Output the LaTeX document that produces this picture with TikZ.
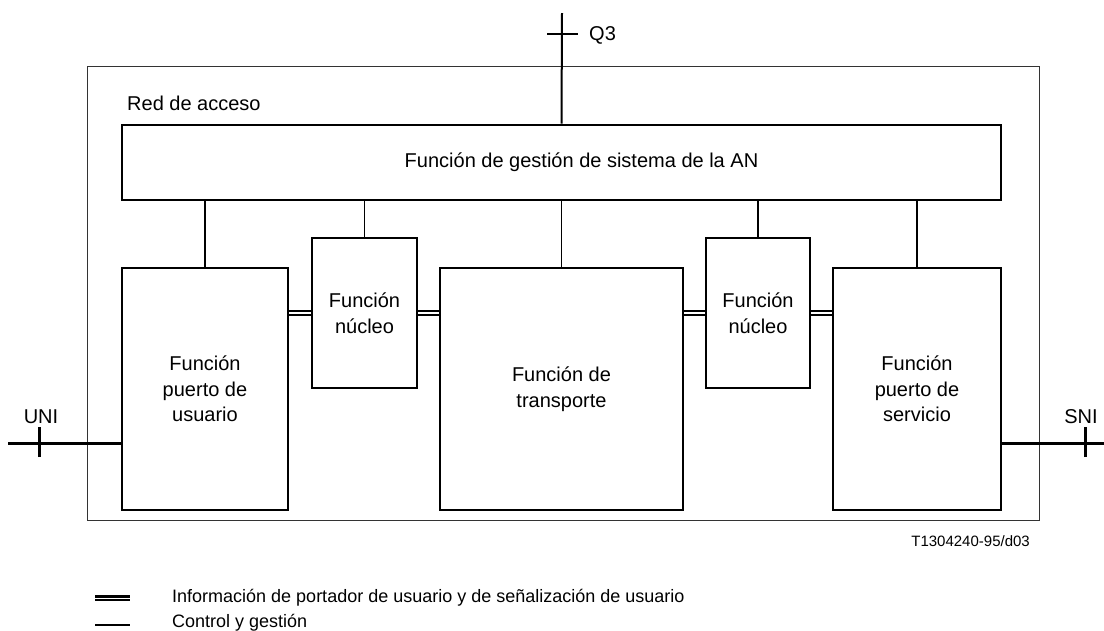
\documentclass[tikz,border=0pt]{standalone}
\usepackage{fontspec}
\setmainfont{Liberation Sans}
\begin{document}
\begin{tikzpicture}[x=1pt,y=-1pt,
  every node/.style={font=\fontsize{20}{25.5}\selectfont, inner sep=0pt},
  fbox/.style={draw, line width=2.8pt, align=center},
  ctrl/.style={line width=1.7pt},
  bearer/.style={double, double distance=1.3pt, line width=2pt},
  legtext/.style={anchor=west, font=\fontsize{18}{22}\selectfont}]
\useasboundingbox (0,0) rectangle (1104,630);
% outer access network box
\node[draw, line width=1pt, black!80, minimum width=952pt, minimum height=454pt] (an) at (563,293) {};
\node[anchor=west] (red) at (127,103) {Red de acceso};
% boxes
\node[fbox, minimum width=879pt, minimum height=75pt] (top) at (561.5,162.5) {\hspace*{40pt}Función de gestión de sistema de la AN};
\node[fbox, minimum width=166pt, minimum height=242pt] (pu) at (205,389) {Función\\puerto de\\usuario};
\node[fbox, minimum width=105pt, minimum height=150pt] (n1) at (364.5,313) {Función\\núcleo};
\node[fbox, minimum width=243pt, minimum height=242pt] (tr) at (561.5,389) {Función de\\transporte};
\node[fbox, minimum width=104pt, minimum height=150pt] (n2) at (758,313) {Función\\núcleo};
\node[fbox, minimum width=168pt, minimum height=242pt] (ps) at (917,389) {Función\\puerto de\\servicio};
% control lines
\foreach \b in {pu,n1,tr,n2,ps}
  \draw[ctrl] (\b.north) -- (\b.north |- top.south);
% bearer lines
\draw[bearer] (n1.west -| pu.east) -- (n1.west);
\draw[bearer] (n1.east) -- (n1.east -| tr.west);
\draw[bearer] (n2.west -| tr.east) -- (n2.west);
\draw[bearer] (n2.east) -- (n2.east -| ps.west);
% Q3
\coordinate (q3end) at (562,13);
\draw[line width=2pt] (top.north) -- (q3end);
\coordinate (q3tick) at (562,34);
\draw[line width=2pt] ([xshift=-15pt]q3tick) -- ([xshift=16pt]q3tick);
\node[anchor=west] (q3) at (589,35) {Q3};
% UNI
\coordinate (uni) at (8,443);
\draw[line width=3pt] (uni) -- (uni -| pu.west);
\coordinate (unitick) at (39,443);
\draw[line width=3pt] ([yshift=-14pt]unitick) -- ([yshift=16pt]unitick);
\node (unil) at (41,417) {UNI};
% SNI
\coordinate (sni) at (1104,443);
\draw[line width=3pt] (sni -| ps.east) -- (sni);
\coordinate (snitick) at (1085,443);
\draw[line width=3pt] ([yshift=-14pt]snitick) -- ([yshift=16pt]snitick);
\node (snil) at (1081,417) {SNI};
% figure code
\node[anchor=east, font=\fontsize{15}{17}\selectfont] (code) at (1030,541) {T1304240-95/d03};
% legend
\coordinate (l1a) at (95,598);
\coordinate (l1b) at (130,598);
\draw[double, double distance=0.8pt, line width=2.3pt] (l1a) -- (l1b);
\node[legtext] (leg1) at (172,598) {Información de portador de usuario y de señalización de usuario};
\coordinate (l2a) at (95,625);
\coordinate (l2b) at (130,625);
\draw[ctrl] (l2a) -- (l2b);
\node[legtext] (leg2) at (172,623) {Control y gestión};
\end{tikzpicture}
\end{document}
